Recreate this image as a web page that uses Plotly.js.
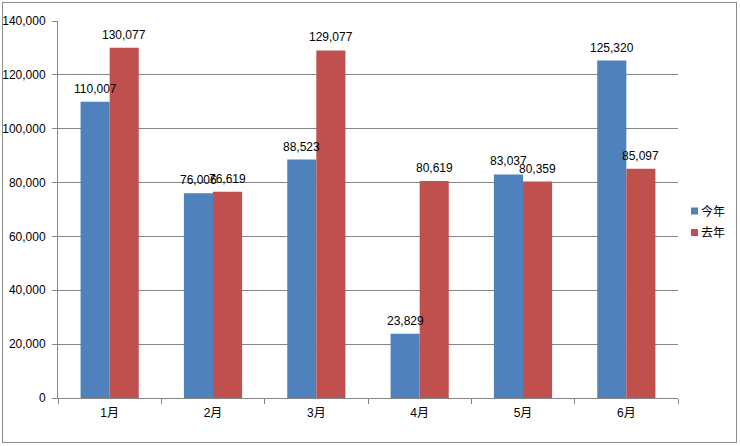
<!DOCTYPE html>
<html><head><meta charset="utf-8">
<script src="https://cdn.plot.ly/plotly-3.0.1.min.js"></script>
<style>
body{margin:0;padding:0;background:#fff;}
#wrap{position:relative;width:740px;height:446px;}
#chart{width:740px;height:446px;}
#frame{position:absolute;left:2px;top:2px;width:733px;height:439px;border:1px solid #8c8c8c;pointer-events:none;}
</style></head>
<body>
<div id="wrap"><div id="chart"></div><div id="frame"></div></div>
<script>
const categories = ['1月','2月','3月','4月','5月','6月'];
const thisYear = [110007, 76006, 88523, 23829, 83037, 125320];
const lastYear = [130077, 76619, 129077, 80619, 80359, 85097];
const seriesNames = ['今年','去年'];
const seriesColors = ['#4f81bd','#c0504d'];
const yTicks = [0,20000,40000,60000,80000,100000,120000,140000];
const yTickLabels = ['0','20,000','40,000','60,000','80,000','100,000','120,000','140,000'];

const fnt = {family:'"Liberation Sans", "Noto Sans CJK SC", sans-serif', size:12, color:'#000'};
const fmt = v => v.toLocaleString('en-US');

// plot area in pixels
const L = 58, R = 62, T = 21, B = 48, W = 740, H = 446;
const pw = W - L - R, ph = H - T - B;
const px = x => (x - L) / pw;
const py = y => (H - B - y) / ph;

const traces = [
  {type:'bar', name:seriesNames[0], x:categories, y:thisYear, marker:{color:seriesColors[0]}, hoverinfo:'none'},
  {type:'bar', name:seriesNames[1], x:categories, y:lastYear, marker:{color:seriesColors[1]}, hoverinfo:'none'}
];

const annotations = [];
[thisYear, lastYear].forEach((arr, si) => {
  arr.forEach((v, i) => {
    annotations.push({x:categories[i], y:v, xref:'x', yref:'y', text:fmt(v), showarrow:false,
      xshift: si===0 ? -14.5 : 14.5, yshift: 4, yanchor:'bottom', font:fnt});
  });
});

// manual legend
const shapes = [];
seriesNames.forEach((n, i) => {
  const cy = 211 + i * 21.5;
  shapes.push({type:'rect', xref:'paper', yref:'paper', x0:px(691), x1:px(698), y0:py(cy+3.5), y1:py(cy-3.5),
    fillcolor:seriesColors[i], line:{width:0}});
  annotations.push({xref:'paper', yref:'paper', x:px(699), y:py(cy), xanchor:'left', yanchor:'middle',
    text:n, showarrow:false, font:fnt});
});

const layout = {
  width:W, height:H,
  margin:{l:L, r:R, t:T, b:B},
  paper_bgcolor:'#fff', plot_bgcolor:'#fff',
  barmode:'group', bargap:0.437, bargroupgap:0,
  font:fnt,
  showlegend:false,
  xaxis:{type:'category', showline:true, linecolor:'#868686', linewidth:1, ticks:'outside', tickson:'boundaries',
    ticklen:5, tickcolor:'#868686', showgrid:false, tickfont:fnt, ticklabelstandoff:4, fixedrange:true},
  yaxis:{range:[0,140000], tickvals:yTicks, ticktext:yTickLabels, showline:true, linecolor:'#868686', linewidth:1,
    ticks:'outside', ticklen:5, tickcolor:'#868686', showgrid:true, gridcolor:'#868686', gridwidth:1,
    zeroline:false, tickfont:fnt, ticklabelstandoff:4, fixedrange:true},
  annotations:annotations,
  shapes:shapes
};
Plotly.newPlot('chart', traces, layout, {displayModeBar:false, staticPlot:true});
</script>
</body></html>
